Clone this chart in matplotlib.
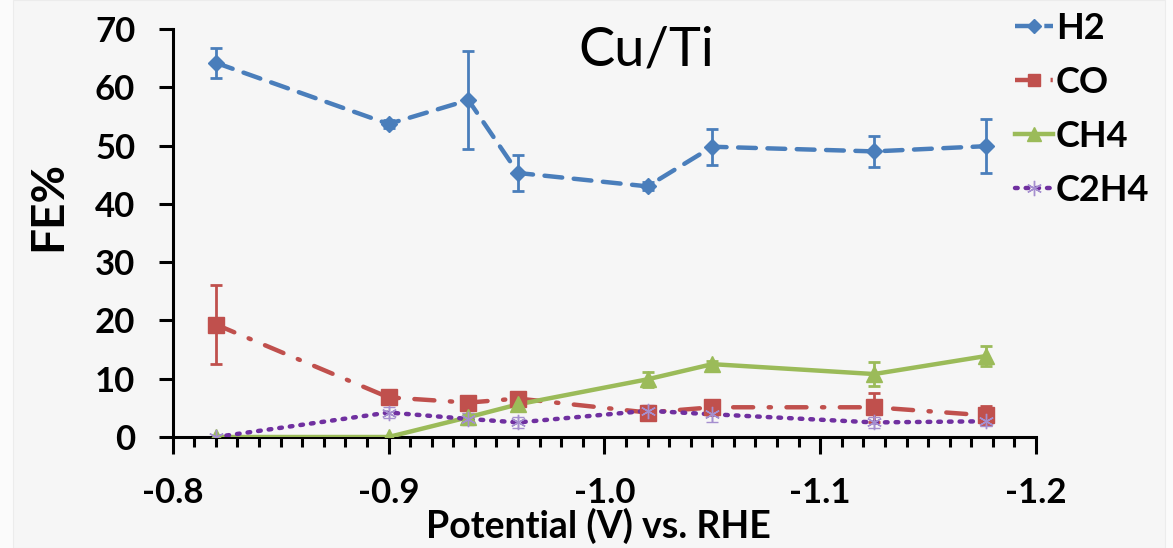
import numpy as np
import matplotlib
matplotlib.use('Agg')
import matplotlib.pyplot as plt
from matplotlib.patches import Rectangle
from matplotlib.ticker import MultipleLocator

plt.rcParams['font.family'] = ['Lato', 'DejaVu Sans']

# Potential vs. RHE (V)
potential = [-0.82, -0.90, -0.937, -0.96, -1.02, -1.05, -1.125, -1.177]

# Faradaic efficiencies (%) and their error bars
fe_h2 = [64.2, 53.7, 57.8, 45.3, 43.0, 49.8, 49.0, 49.9]
err_h2 = [2.6, 0.7, 8.4, 3.1, 0.7, 3.1, 2.7, 4.6]
fe_co = [19.3, 6.8, 5.9, 6.6, 4.2, 5.1, 5.1, 3.7]
err_co = [6.8, 0.8, 0.5, 0.6, 0.7, 1.3, 2.5, 1.6]
fe_ch4 = [0.0, 0.0, 3.4, 5.6, 9.9, 12.5, 10.8, 13.9]
err_ch4 = [0.0, 0.0, 0.5, 0.5, 1.3, 0.5, 2.1, 1.7]
fe_c2h4 = [0.0, 4.2, 3.1, 2.5, 4.5, 3.9, 2.5, 2.7]
err_c2h4 = [0.0, 1.0, 1.0, 1.0, 1.0, 1.3, 1.0, 0.8]

W, H = 1173, 548
fig = plt.figure(figsize=(W / 100, H / 100), dpi=100, facecolor='#fbfbfb')
fig.patches.append(Rectangle((13 / W, 0), (1165 - 13) / W, 1, transform=fig.transFigure,
                             facecolor='#f6f6f6', edgecolor='#ececec', lw=0.8, zorder=-10))

ax = fig.add_axes([172.7 / W, 1 - 437 / H, (1036 - 172.7) / W, (437 - 29) / H])
ax.set_facecolor('none')

star = (6, 2, 0)
series = [
    ('H2', fe_h2, err_h2, '#4a7ebb', (0, (4, 2.6)), 'D', 8),
    ('CO', fe_co, err_co, '#c0504d', (0, (4.5, 3.5, 0.5, 3.5)), 's', 11),
    ('CH4', fe_ch4, err_ch4, '#9bbb59', '-', '^', 12),
    ('C2H4', fe_c2h4, err_c2h4, '#7030a0', (0, (0.6, 1.8)), star, 11),
]

for name, y, e, c, ls, mk, ms in series:
    ecol = '#a58fcf' if name == 'C2H4' else c
    elw = 1.0 if name == 'C2H4' else 2.0
    ax.errorbar(potential, y, yerr=e, fmt='none', ecolor=ecol, elinewidth=elw,
                capsize=4, capthick=elw, zorder=2)
    ax.plot(potential, y, color=c, ls=ls, lw=3.2, solid_capstyle='round',
            dash_capstyle='round', zorder=3)
    if name == 'C2H4':
        ax.plot(potential, y, ls='none', marker=mk, ms=ms, mec='#a58fcf', mew=1.0,
                zorder=4)
    else:
        ax.plot(potential, y, ls='none', marker=mk, ms=ms, color=c, zorder=4)

# Legend handles combine line and marker
handles = []
for name, y, e, c, ls, mk, ms in series:
    if name == 'C2H4':
        h, = ax.plot([], [], color=c, ls=ls, lw=3.2, marker=mk, ms=ms, mec='#a58fcf',
                     mew=1.0, dash_capstyle='round')
    else:
        h, = ax.plot([], [], color=c, ls=ls, lw=3.2, marker=mk, ms=ms * 0.85, mfc=c, mec=c)
    handles.append(h)
fig.legend(handles, ['H2', 'CO', 'CH4', 'C2H4'], loc='upper left',
           bbox_to_anchor=(1015 / W, 1 - 12 / H), frameon=False,
           prop={'weight': 'bold', 'size': 26}, handlelength=1.05,
           handletextpad=0.08, labelspacing=0.58, borderpad=0, borderaxespad=0)

ax.set_xlim(-0.8, -1.2)
ax.set_ylim(0, 70)
ax.xaxis.set_minor_locator(MultipleLocator(0.01))
ax.yaxis.set_major_locator(MultipleLocator(10))
ax.set_xticks([-0.8, -0.9, -1.0, -1.1, -1.2])
ax.set_xticklabels(['-0.8', '-0.9', '-1.0', '-1.1', '-1.2'])

for s in ['top', 'right']:
    ax.spines[s].set_visible(False)
for s in ['left', 'bottom']:
    ax.spines[s].set_linewidth(2.2)
ax.tick_params(axis='both', which='major', direction='out', width=2.2, length=10,
               labelsize=25, pad=17)
ax.tick_params(axis='x', which='major', length=12, pad=17)
ax.tick_params(axis='x', which='minor', direction='out', width=2.2, length=7)
for lbl in ax.get_xticklabels() + ax.get_yticklabels():
    lbl.set_fontweight('bold')

fig.text(48 / W, 1 - 206 / H, 'FE%', rotation=90, ha='center', va='center',
         fontsize=33, fontweight='bold')
fig.text(598 / W, 1 - 526 / H, 'Potential (V) vs. RHE', ha='center', va='center',
         fontsize=27, fontweight='bold')
fig.text(646 / W, 1 - 50 / H, 'Cu/Ti', ha='center', va='center', fontsize=39)

fig.savefig('out.png', dpi=100, facecolor=fig.get_facecolor())
